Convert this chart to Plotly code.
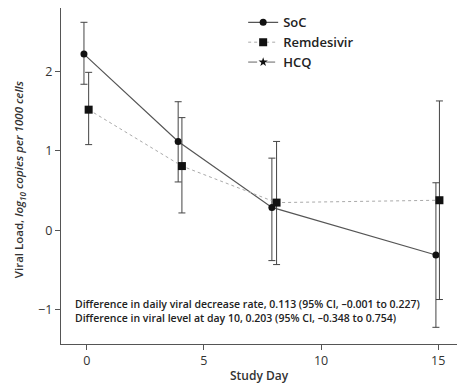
import plotly.graph_objects as go

days = [0, 4, 8, 15]
soc_x = [-0.12, 3.9, 7.9, 14.9]
soc_y = [2.22, 1.12, 0.29, -0.31]
soc_hi = [2.62, 1.62, 0.91, 0.60]
soc_lo = [1.84, 0.61, -0.38, -1.22]

rem_x = [0.08, 4.06, 8.1, 15.05]
rem_y = [1.52, 0.81, 0.35, 0.38]
rem_hi = [1.99, 1.42, 1.12, 1.63]
rem_lo = [1.08, 0.22, -0.43, -0.87]

x_ticks = [0, 5, 10, 15]
y_ticks = [-1, 0, 1, 2]

note_lines = [
    "Difference in daily viral decrease rate, 0.113 (95% CI, \u20130.001 to 0.227)",
    "Difference in viral level at day 10, 0.203 (95% CI, \u20130.348 to 0.754)",
]

FONT = "Open Sans"
fig = go.Figure()

def err(y, hi, lo):
    return dict(type="data", symmetric=False,
                array=[h - v for h, v in zip(hi, y)],
                arrayminus=[v - l for v, l in zip(y, lo)],
                color="#444", thickness=1, width=3.5)

fig.add_trace(go.Scatter(
    x=soc_x, y=soc_y, name="SoC", mode="lines+markers",
    line=dict(color="#555", width=1.2),
    marker=dict(symbol="circle", size=7, color="#111"),
    error_y=err(soc_y, soc_hi, soc_lo)))
fig.add_trace(go.Scatter(
    x=rem_x, y=rem_y, name="Remdesivir", mode="lines+markers",
    line=dict(color="#aaa", width=1, dash="dot"),
    marker=dict(symbol="square", size=8, color="#111"),
    error_y=err(rem_y, rem_hi, rem_lo)))
fig.add_trace(go.Scatter(
    x=[None], y=[None], name="HCQ", mode="lines+markers",
    line=dict(color="#666", width=1, dash="dash"),
    marker=dict(symbol="star", size=7, color="#111")))

fig.add_annotation(
    x=0.03, y=0.145, xref="paper", yref="paper", xanchor="left", yanchor="top",
    text="<br>".join(note_lines), align="left", showarrow=False,
    font=dict(family=FONT, size=10.5, color="#222", weight=600))

fig.add_annotation(
    x=-0.104, y=0.49, xref="paper", yref="paper", xanchor="center", yanchor="middle",
    text="Viral Load, <i>log<sub>10</sub> copies per 1000 cells</i>", textangle=-90,
    showarrow=False, font=dict(family=FONT, size=11.5, color="#333", weight=600))
fig.add_annotation(
    x=0.5, y=-0.062, xref="paper", yref="paper", xanchor="center", yanchor="top",
    text="Study Day", showarrow=False,
    font=dict(family=FONT, size=12, color="#333", weight=600))

fig.update_layout(
    width=457, height=385,
    margin=dict(l=61, r=0, t=8, b=41),
    paper_bgcolor="white", plot_bgcolor="white",
    font=dict(family=FONT, color="#333"),
    showlegend=True,
    legend=dict(x=0.46, y=1.002, xanchor="left", yanchor="top",
                bgcolor="rgba(0,0,0,0)", tracegroupgap=0, itemwidth=30,
                font=dict(family=FONT, size=13, color="#222", weight=600)),
    xaxis=dict(range=[-1.1, 15.8], tickvals=x_ticks, showgrid=False, zeroline=False,
               showline=True, linecolor="#555", linewidth=1.2, automargin=False,
               ticks="outside", ticklen=5, tickcolor="#555",
               tickfont=dict(family=FONT, size=12.5, color="#333")),
    yaxis=dict(range=[-1.43, 2.8], tickvals=y_ticks, ticktext=["\u22121", "0", "1", "2"],
               showgrid=False, zeroline=False, automargin=False,
               showline=True, linecolor="#555", linewidth=1.2,
               ticks="outside", ticklen=5, tickcolor="#555",
               tickfont=dict(family=FONT, size=12.5, color="#333")),
)

fig.write_html("out.html", config={"displayModeBar": False},
               post_script="document.body.style.margin='0px';document.body.style.overflow='hidden';")
